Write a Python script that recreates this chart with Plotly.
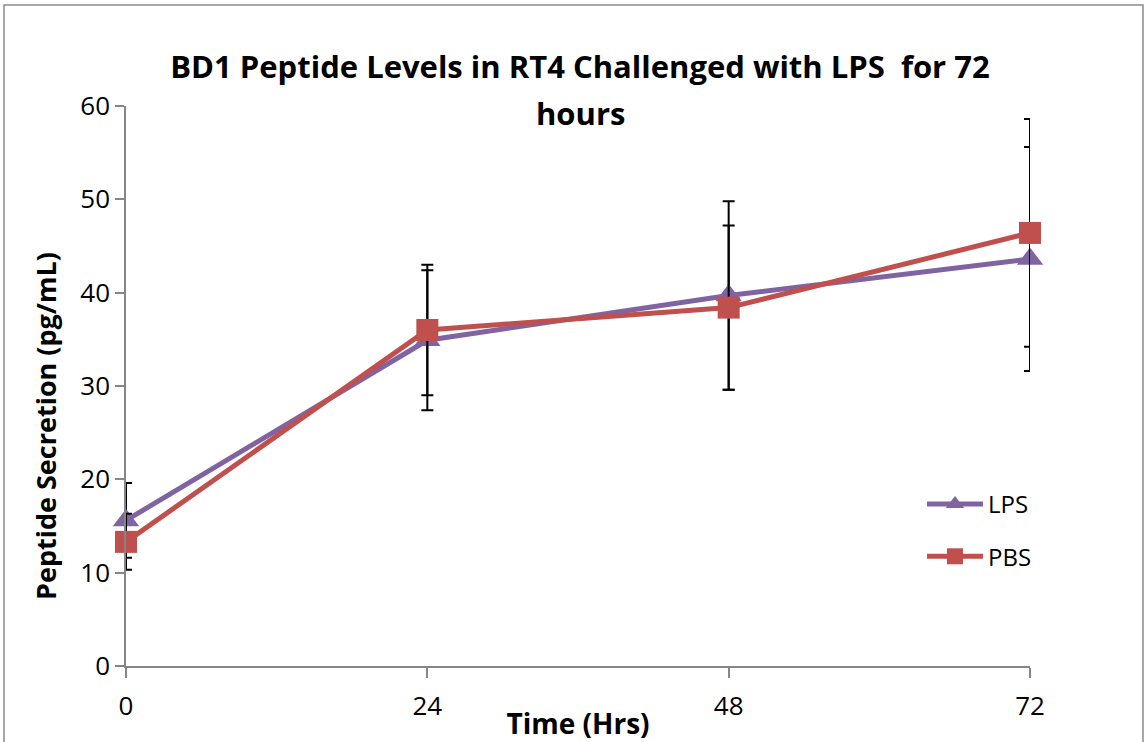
import plotly.graph_objects as go

hours = [0, 24, 48, 72]
lps = [15.6, 34.9, 39.7, 43.6]
lps_err = [4.0, 7.5, 10.1, 12.0]
pbs = [13.3, 36.0, 38.4, 46.4]
pbs_err = [3.0, 7.0, 8.8, 12.2]
x_ticks = [0, 24, 48, 72]
y_ticks = [0, 10, 20, 30, 40, 50, 60]
title_line1 = "BD1 Peptide Levels in RT4 Challenged with LPS  for 72"
title_line2 = "hours"
y_title = "Peptide Secretion (pg/mL)"
x_title = "Time (Hrs)"

PURPLE = "#8064A2"
RED = "#C0504D"
FONT = "Open Sans"

W, H = 1148, 742
L, R, T, B = 126, 118, 106, 76
PW, PH = W - L - R, H - T - B


def px(xp):
    return (xp - L) / PW


def py(yp):
    return (H - B - yp) / PH


fig = go.Figure()
fig.add_trace(go.Scatter(
    x=hours, y=lps, name="LPS", mode="lines+markers", legendgroup="a",
    line=dict(color=PURPLE, width=5), cliponaxis=False,
    marker=dict(symbol="triangle-up", size=23, color=PURPLE),
    error_y=dict(type="data", array=lps_err, color="black", thickness=2, width=6),
))
fig.add_trace(go.Scatter(
    x=hours, y=pbs, name="PBS", mode="lines+markers", legendgroup="b",
    line=dict(color=RED, width=5), cliponaxis=False,
    marker=dict(symbol="square", size=22, color=RED),
    error_y=dict(type="data", array=pbs_err, color="black", thickness=2, width=6),
))

fig.update_layout(
    width=W, height=H,
    margin=dict(l=L, r=R, t=T, b=B, autoexpand=False),
    paper_bgcolor="white", plot_bgcolor="white",
    font=dict(family=FONT, color="black", size=26),
    title=dict(
        text="<b>" + title_line1 + "</b>",
        x=px(580), xref="paper", xanchor="center",
        y=(H - 78) / H, yanchor="bottom", yref="container",
        font=dict(family=FONT, size=31, color="black"),
    ),
    annotations=[
        dict(text="<b>" + title_line2 + "</b>", xref="paper", yref="paper",
             x=px(580), y=py(136), xanchor="center", yanchor="bottom",
             showarrow=False, font=dict(family=FONT, size=31, color="black")),
        dict(text="<b>" + y_title + "</b>", xref="paper", yref="paper",
             x=px(45), y=py(426), xanchor="center", yanchor="middle", textangle=-90,
             showarrow=False, font=dict(family=FONT, size=27, color="black")),
    ],
    showlegend=True,
    legend=dict(
        x=px(922), y=py(482), xanchor="left", yanchor="top",
        traceorder="grouped", tracegroupgap=18, itemwidth=56,
        font=dict(family=FONT, size=24, color="black"),
        bgcolor="rgba(0,0,0,0)",
    ),
    shapes=[dict(
        type="rect", xref="paper", yref="paper",
        x0=px(4), x1=px(1143), y0=py(750), y1=py(5),
        line=dict(color="#8c8c8c", width=1.5), fillcolor="rgba(0,0,0,0)", layer="below",
    )],
)

fig.update_xaxes(
    range=[0, 72], tickvals=x_ticks, ticktext=[str(v) for v in x_ticks],
    showgrid=False, zeroline=False, showline=True, linecolor="#868686", linewidth=1.5,
    ticks="outside", ticklen=10, tickcolor="#868686", tickwidth=1.5,
    ticklabelstandoff=6, automargin=False,
    tickfont=dict(family=FONT, size=26),
    title=dict(text="<b>" + x_title + "</b>", font=dict(family=FONT, size=28), standoff=0),
)
fig.update_yaxes(
    range=[0, 60], tickvals=y_ticks,
    showgrid=False, zeroline=False, showline=True, linecolor="#868686", linewidth=1.5,
    ticks="outside", ticklen=9, tickcolor="#868686", tickwidth=1.5,
    automargin=False,
    tickfont=dict(family=FONT, size=26),
)

fig.write_html("out.html", config={"displayModeBar": False},
               post_script="document.body.style.margin='0';")
